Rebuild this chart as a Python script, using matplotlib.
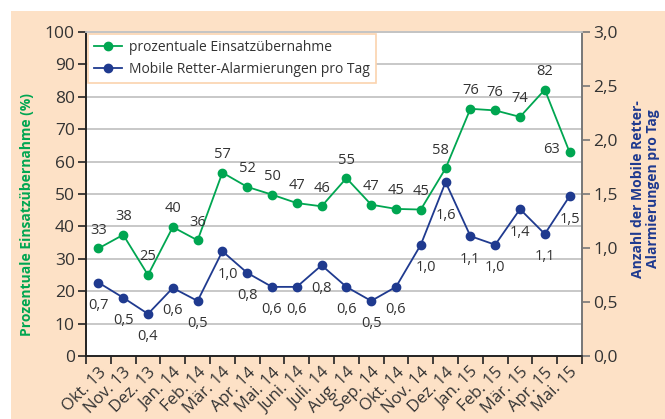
import matplotlib
matplotlib.use("Agg")
import matplotlib.pyplot as plt
from matplotlib.patches import Rectangle

months = ["Okt. 13", "Nov. 13", "Dez. 13", "Jan. 14", "Feb. 14", "Mär. 14", "Apr. 14",
          "Mai. 14", "Juni. 14", "Juli. 14", "Aug. 14", "Sep. 14", "Okt. 14", "Nov. 14",
          "Dez. 14", "Jan. 15", "Feb. 15", "Mär. 15", "Apr. 15", "Mai. 15"]
einsatz = [33.2, 37.4, 25.0, 39.8, 35.7, 56.6, 52.2, 49.8, 47.2, 46.2, 54.9, 46.7, 45.4,
           45.2, 57.9, 76.3, 75.8, 73.8, 82.2, 62.9]
einsatz_labels = ["33", "38", "25", "40", "36", "57", "52", "50", "47", "46", "55", "47",
                  "45", "45", "58", "76", "76", "74", "82", "63"]
alarm = [0.68, 0.54, 0.39, 0.63, 0.51, 0.97, 0.77, 0.64, 0.64, 0.84, 0.64, 0.51, 0.64,
         1.03, 1.61, 1.11, 1.03, 1.36, 1.13, 1.48]
alarm_labels = ["0,7", "0,5", "0,4", "0,6", "0,5", "1,0", "0,8", "0,6", "0,6", "0,8", "0,6",
                "0,5", "0,6", "1,0", "1,6", "1,1", "1,0", "1,4", "1,1", "1,5"]
left_ticks = [0, 10, 20, 30, 40, 50, 60, 70, 80, 90, 100]
right_ticks = [0.0, 0.5, 1.0, 1.5, 2.0, 2.5, 3.0]
right_ticklabels = ["0,0", "0,5", "1,0", "1,5", "2,0", "2,5", "3,0"]

GREEN = "#00a651"
BLUE = "#1f3a8f"
PEACH = "#fde1c6"
TXT = "#333333"

plt.rcParams["font.family"] = ["Open Sans", "DejaVu Sans"]

W, H = 665, 419
fig = plt.figure(figsize=(W / 100, H / 100), dpi=100)
fig.patch.set_facecolor("white")
fig.add_artist(Rectangle((11 / W, 0), 1 - 11 / W, (H - 11) / H, transform=fig.transFigure,
                         facecolor=PEACH, edgecolor="none", zorder=-10))

ax = fig.add_axes([86 / W, (H - 356) / H, (582 - 86) / W, (356 - 32) / H])
ax.set_facecolor("white")
ax2 = ax.twinx()

x = list(range(len(months)))
ax.set_xlim(-0.5, len(months) - 0.5)
ax.set_ylim(0, 100)
ax2.set_ylim(0, 3.0)

for t in left_ticks[1:]:
    ax.axhline(t, color="#c4c4c4", lw=1.3, zorder=1)

l1, = ax.plot(x, einsatz, color=GREEN, lw=1.3, marker="o", ms=6, zorder=4,
              label="prozentuale Einsatzübernahme")
l2, = ax2.plot(x, alarm, color=BLUE, lw=1.3, marker="o", ms=6, zorder=4,
               label="Mobile Retter-Alarmierungen pro Tag")

for i, (v, s) in enumerate(zip(einsatz, einsatz_labels)):
    dx, dy = 0, 13
    if i == len(einsatz) - 1:
        dx, dy = -13, 2
    elif i == 14:
        dx, dy = -4, 13
    ax.annotate(s, (i, v), xytext=(dx, dy), textcoords="offset points", ha="center",
                va="center", fontsize=10.5, color=TXT, zorder=5)

for i, (v, s) in enumerate(zip(alarm, alarm_labels)):
    dx, dy = 0, -16.5
    if i == 14:
        dx, dy = 0, -24
    elif i in (5, 13):
        dx = 4
    ax2.annotate(s, (i, v), xytext=(dx, dy), textcoords="offset points", ha="center",
                 va="center", fontsize=10.5, color=TXT, zorder=5)

ax.set_yticks(left_ticks)
ax.set_yticklabels([str(t) for t in left_ticks], fontsize=12.5, color=TXT)
ax2.set_yticks(right_ticks)
ax2.set_yticklabels(right_ticklabels, fontsize=12.5, color=TXT)

ax.set_xticks(x)
ax.set_xticklabels(months, rotation=45, ha="right", rotation_mode="anchor", fontsize=12,
                   color=TXT)
ax.set_xticks([i - 0.5 for i in range(len(months) + 1)], minor=True)
ax.tick_params(axis="x", which="major", length=0, pad=6)
ax.tick_params(axis="x", which="minor", length=6, width=1.2, color="#222222")
ax.tick_params(axis="y", length=6, width=1.2, color="#222222", pad=2)
ax2.tick_params(axis="y", length=6, width=1.2, color="#777777", pad=2)

for a in (ax, ax2):
    a.spines["top"].set_color("#c4c4c4")
    a.spines["top"].set_linewidth(1.3)
    a.spines["left"].set_color("#222222")
    a.spines["bottom"].set_color("#222222")
    a.spines["right"].set_color("#777777")
    for s in ("left", "bottom", "right"):
        a.spines[s].set_linewidth(1.2)

fig.text(27 / W, 1 - 215 / H, "Prozentuale Einsatzübernahme (%)", rotation=90, ha="center",
         va="center", fontsize=10, fontweight="bold", color=GREEN)
fig.text(638 / W, 1 - 189 / H, "Anzahl der Mobile Retter-", rotation=90, ha="center",
         va="center", fontsize=10, fontweight="bold", color=BLUE)
fig.text(653 / W, 1 - 189 / H, "Alarmierungen pro Tag", rotation=90, ha="center",
         va="center", fontsize=10, fontweight="bold", color=BLUE)

leg = ax2.legend(handles=[l1, l2], loc="upper left", bbox_to_anchor=(0.0, 1.0),
                 fontsize=10, frameon=True, fancybox=False, handlelength=2.0,
                 borderpad=0.45, labelspacing=0.45, borderaxespad=0.15, handletextpad=0.5)
leg.get_frame().set_edgecolor("#fbd3ae")
leg.get_frame().set_linewidth(1.2)
leg.get_frame().set_alpha(1)
for t in leg.get_texts():
    t.set_color(TXT)

fig.savefig("out.png", dpi=100)
